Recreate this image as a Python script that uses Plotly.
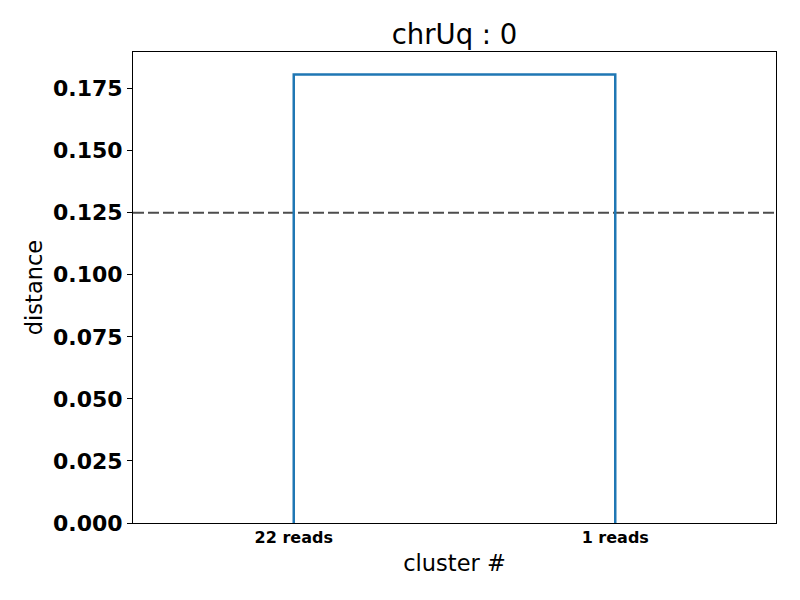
import plotly.graph_objects as go

# dendrogram data (matplotlib/scipy style coordinates)
icoord = [5, 5, 15, 15]
dcoord = [0.0, 0.1807, 0.1807, 0.0]
leaf_positions = [5, 15]
leaf_labels = ["22 reads", "1 reads"]
threshold = 0.125
y_ticks = [0.000, 0.025, 0.050, 0.075, 0.100, 0.125, 0.150, 0.175]
y_tick_labels = [f"{v:.3f}" for v in y_ticks]
title = "chrUq : 0"

fig = go.Figure()
fig.add_trace(go.Scatter(
    x=[0, 20], y=[threshold, threshold], mode="lines",
    line=dict(color="#4d4d4d", width=2, dash="11px,4px"),
    hoverinfo="skip", showlegend=False))
fig.add_trace(go.Scatter(
    x=icoord, y=dcoord, mode="lines",
    line=dict(color="#1f77b4", width=2.5),
    showlegend=False))

font_family = "DejaVu Sans"
fig.update_layout(
    width=800, height=600,
    margin=dict(l=133, r=24, t=52, b=77),
    paper_bgcolor="white", plot_bgcolor="white",
    title=dict(text=title, x=0.5, xref="paper", xanchor="center",
               y=1, yref="paper", yanchor="bottom", pad=dict(b=8),
               font=dict(family=font_family, size=27.5, color="black")),
    xaxis=dict(range=[0, 20], tickvals=leaf_positions, ticktext=leaf_labels,
               ticks="", showgrid=False, zeroline=False,
               showline=True, linecolor="black", linewidth=1, mirror=True,
               tickfont=dict(family=font_family, size=16, color="black", weight="bold"),
               title=dict(text="cluster #", standoff=9,
                          font=dict(family=font_family, size=22.5, color="black"))),
    yaxis=dict(range=[0, 0.1807 * 1.05], tickvals=y_ticks, ticktext=y_tick_labels,
               ticks="outside", ticklen=5, tickcolor="black", tickwidth=1,
               showgrid=False, zeroline=False,
               showline=True, linecolor="black", linewidth=1, mirror=True,
               tickfont=dict(family=font_family, size=22, color="black", weight="bold"),
               title=dict(text="distance", standoff=4,
                          font=dict(family=font_family, size=22.5, color="black"))),
)

fig.write_html("out.html")
